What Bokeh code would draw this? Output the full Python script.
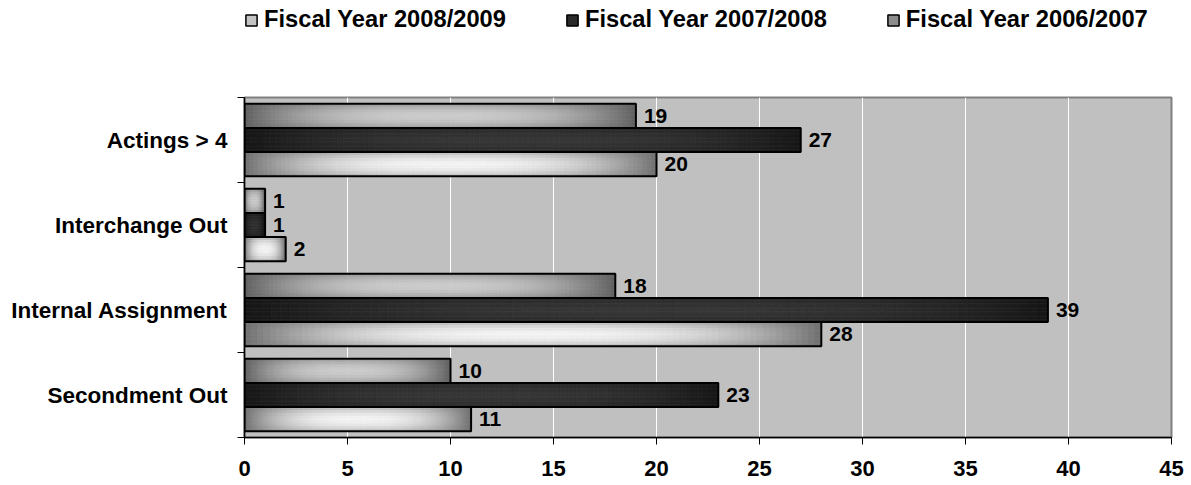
from bokeh.plotting import figure
from bokeh.layouts import column
from bokeh.models import (Range1d, FixedTicker, Legend, LegendItem,
                          ColumnDataSource, LabelSet)
from bokeh.core.properties import value
from bokeh.embed import file_html
from bokeh.resources import INLINE

# ---- data ---------------------------------------------------------------
categories = ["Actings > 4", "Interchange Out", "Internal Assignment", "Secondment Out"]
series_names = ["Fiscal Year 2008/2009", "Fiscal Year 2007/2008", "Fiscal Year 2006/2007"]
fy_2008_2009 = [20, 2, 28, 11]
fy_2007_2008 = [27, 1, 39, 23]
fy_2006_2007 = [19, 1, 18, 10]
x_ticks = [0, 5, 10, 15, 20, 25, 30, 35, 40, 45]

FONT = "Liberation Sans"

# category rows from top to bottom
y_pos = [len(categories) - 1 - i for i in range(len(categories))]

# per series: values, vertical offset in the group, gradient edge/center grey
series = [
    (fy_2008_2009, -0.285, 0x70, 0xf4, "#c4c4c4"),
    (fy_2007_2008, 0.0, 0x16, 0x36, "#2a2a2a"),
    (fy_2006_2007, 0.285, 0x60, 0xcc, "#8c8c8c"),
]
bar_h = 0.285

W = 1191
LEG_H = 95

p = figure(width=W, height=485 - LEG_H, output_backend="svg", toolbar_location=None,
           x_range=Range1d(0, 45), y_range=Range1d(-0.5, len(categories) - 0.5),
           min_border_left=244, min_border_right=20, min_border_top=2,
           min_border_bottom=48, x_axis_location="below")
p.background_fill_color = "#c0c0c0"
p.border_fill_color = "white"
p.outline_line_color = "#808080"
p.outline_line_width = 2

# ---- gradient bars, built from thin cells along each bar -----------------
NX, NY = 90, 9


def grey(v):
    v = int(round(max(0, min(255, v))))
    return "#%02x%02x%02x" % (v, v, v)


cells = dict(left=[], right=[], bottom=[], top=[], color=[])
for vals, off, edge, center, _ in series:
    for v, yc in zip(vals, y_pos):
        y0 = yc + off - bar_h / 2
        for ix in range(NX):
            fx = (ix + 0.5) / NX * 2 - 1
            for iy in range(NY):
                fy = (iy + 0.5) / NY * 2 - 1
                f = (1 - abs(fx) ** 2.6) * (1 - 0.45 * fy * fy)
                cells["left"].append(v * ix / NX)
                cells["right"].append(v * (ix + 1) / NX)
                cells["bottom"].append(y0 + bar_h * iy / NY)
                cells["top"].append(y0 + bar_h * (iy + 1) / NY)
                cells["color"].append(grey(edge + (center - edge) * f))

p.quad(left="left", right="right", bottom="bottom", top="top",
       source=ColumnDataSource(cells), fill_color="color", line_color="color",
       line_width=0.6)

# bar outlines and value labels
for vals, off, _, _, _ in series:
    ys = [y + off for y in y_pos]
    src = ColumnDataSource(dict(y=ys, v=vals, t=[str(v) for v in vals]))
    p.hbar(y="y", left=0, right="v", height=bar_h, source=src,
           fill_alpha=0, line_color="black", line_width=2)
    p.add_layout(LabelSet(x="v", y="y", text="t", source=src, x_offset=8,
                          text_baseline="middle", text_font=value(FONT),
                          text_font_style="bold", text_font_size="21px",
                          text_color="black"))

# ---- axes and grid ------------------------------------------------------
p.xaxis.ticker = FixedTicker(ticks=x_ticks)
p.xaxis.major_tick_out = 7
p.xaxis.major_tick_in = 0
p.xaxis.minor_tick_out = 0
p.xaxis.axis_line_color = "black"
p.xaxis.axis_line_width = 1.5
p.xaxis.major_tick_line_color = "black"
p.xaxis.major_label_standoff = 16
p.xaxis.major_label_text_font = FONT
p.xaxis.major_label_text_font_style = "bold"
p.xaxis.major_label_text_font_size = "22px"
p.xaxis.major_label_text_color = "black"

p.yaxis.ticker = FixedTicker(ticks=[float(y) for y in y_pos],
                             minor_ticks=[y - 0.5 for y in range(len(categories) + 1)])
p.yaxis.major_label_overrides = {float(y): c for y, c in zip(y_pos, categories)}
p.yaxis.major_tick_out = 0
p.yaxis.major_tick_in = 0
p.yaxis.minor_tick_out = 7
p.yaxis.minor_tick_in = 0
p.yaxis.minor_tick_line_color = "black"
p.yaxis.axis_line_color = "black"
p.yaxis.axis_line_width = 1.5
p.yaxis.major_label_standoff = 10
p.yaxis.major_label_text_font = FONT
p.yaxis.major_label_text_font_style = "bold"
p.yaxis.major_label_text_font_size = "22.5px"
p.yaxis.major_label_text_color = "black"

p.xgrid.ticker = FixedTicker(ticks=x_ticks)
p.xgrid.grid_line_color = "white"
p.xgrid.grid_line_width = 1
p.ygrid.grid_line_color = None

# ---- legend strip above the chart --------------------------------------
lg = figure(width=W, height=LEG_H, output_backend="svg", toolbar_location=None,
            x_range=Range1d(0, 1), y_range=Range1d(0, 1), min_border=0)
lg.axis.visible = False
lg.grid.visible = False
lg.outline_line_color = None
lg.background_fill_color = "white"

items = []
for name, (_, _, _, _, swatch) in zip(series_names, series):
    # swatch glyph kept outside the visible range; only its legend entry shows
    r = lg.quad(left=[-3], right=[-2], bottom=[-3], top=[-2], fill_color=swatch,
                line_color="black", line_width=1.5)
    items.append(LegendItem(label=name, renderers=[r]))
legend = Legend(items=items, orientation="horizontal", location=(0, 62),
                glyph_width=14, glyph_height=14, label_standoff=6, spacing=59,
                padding=0, margin=0, background_fill_alpha=0,
                border_line_alpha=0, label_text_font=FONT,
                label_text_font_style="bold", label_text_font_size="23.7px",
                label_text_color="black")
lg.add_layout(legend, "center")

layout = column(lg, p, spacing=0)
open("out.html", "w").write(file_html(layout, INLINE))
